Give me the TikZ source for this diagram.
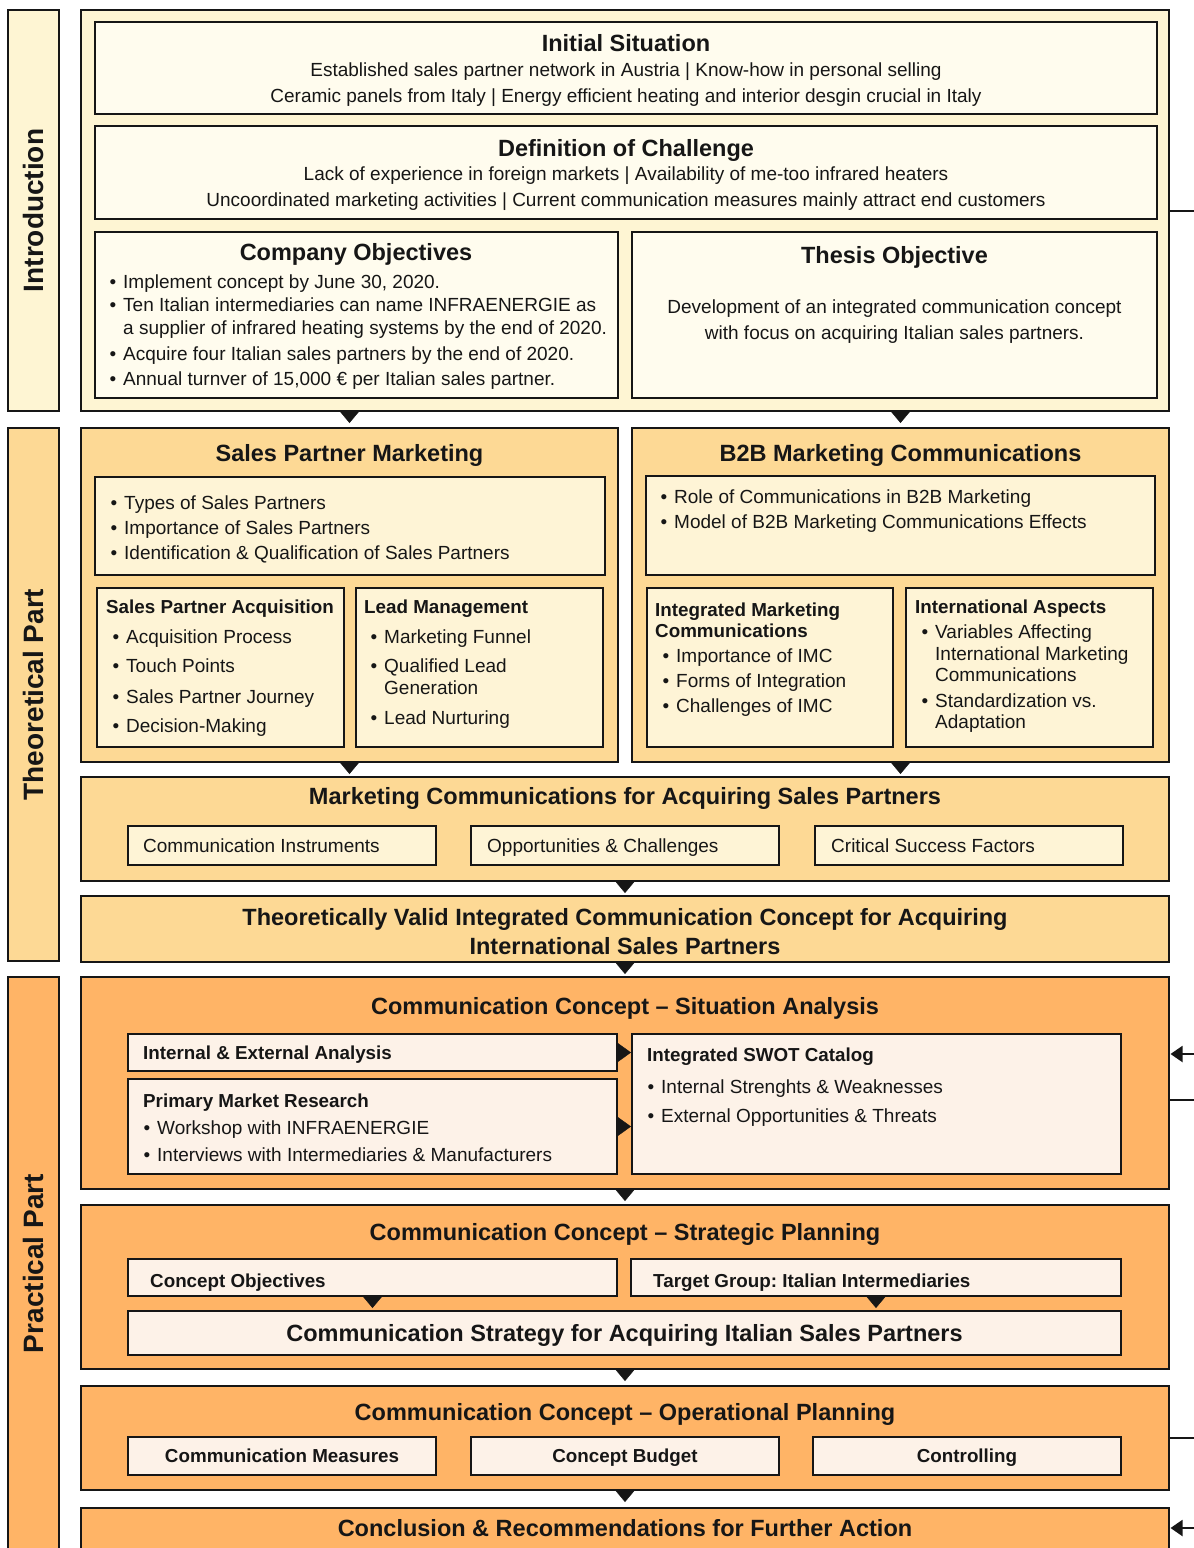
\documentclass[tikz,border=0pt]{standalone}
\usepackage{fontspec}
\setmainfont{Liberation Sans}
\usetikzlibrary{arrows.meta}

\definecolor{introFill}{HTML}{FEF5D3}
\definecolor{introIn}{HTML}{FFFCEE}
\definecolor{theoFill}{HTML}{FDD995}
\definecolor{theoIn}{HTML}{FEF4D6}
\definecolor{pracFill}{HTML}{FFB466}
\definecolor{pracIn}{HTML}{FDF2E8}
\definecolor{edge}{HTML}{161616}

% box from its top-left to its bottom-right corner
\newcommand\bx[6]{%
  \node[#6, anchor=north west, minimum width={#4-#2}, minimum height={#5-#3}] (#1) at (#2,#3) {};}
% bullet hung to the left of the text start
\newcommand\itembul{\llap{•\hspace{7pt}}}

\tikzset{
  frame/.style={draw=edge, line width=2.3pt, inner sep=0pt, outer sep=0pt},
  introbox/.style={frame, fill=introFill},
  introinner/.style={frame, fill=introIn},
  theobox/.style={frame, fill=theoFill},
  theoinner/.style={frame, fill=theoIn},
  pracbox/.style={frame, fill=pracFill},
  pracinner/.style={frame, fill=pracIn},
  txt/.style={inner sep=0pt, font=\fontsize{19}{22}\selectfont\frenchspacing, text=edge},
  ttl/.style={inner sep=0pt, font=\fontsize{23.5}{28}\selectfont\bfseries\frenchspacing, text=edge},
  sub/.style={inner sep=0pt, font=\fontsize{18.8}{22}\selectfont\bfseries\frenchspacing, text=edge},
  lab/.style={inner sep=0pt, font=\fontsize{28}{32}\selectfont\bfseries, text=edge, rotate=90},
  tri/.style={-{Triangle[width=20pt,length=12pt]}, line width=0.4pt, draw=edge, fill=edge},
  trir/.style={-{Triangle[width=20pt,length=14pt]}, line width=0.4pt, draw=edge, fill=edge},
  fb/.style={line width=2pt, draw=edge},
  fbtip/.style={fb, -{Triangle[width=16pt,length=12pt]}},
}

\begin{document}
\begin{tikzpicture}[x=1pt, y=-1pt]
\useasboundingbox (0,0) rectangle (1194,1548);
\clip (0,0) rectangle (1194,1548);

% ---------- part labels ----------
\bx{labI}{8}{10}{59}{411}{introbox}
\bx{labT}{8}{428}{59}{961}{theobox}
\bx{labP}{8}{977}{59}{1565}{pracbox}
\node[lab] (labIt) at (33.5,210.5) {Introduction};
\node[lab] (labTt) at (33.5,694.5) {Theoretical Part};
\node[lab] (labPt) at (33.5,1263.5) {Practical Part};

% ---------- introduction ----------
\bx{intro}{81}{10}{1169}{411}{introbox}
\bx{init}{95}{22}{1157}{114}{introinner}
\bx{chal}{95}{126}{1157}{219}{introinner}
\bx{cobj}{95}{232}{618}{398}{introinner}
\bx{tobj}{632}{232}{1157}{398}{introinner}

\node[ttl, anchor=base] (initT) at (626,51) {Initial Situation};
\node[txt, anchor=base] (initA) at (626,76) {Established sales partner network in Austria | Know-how in personal selling};
\node[txt, anchor=base] (initB) at (626,102) {Ceramic panels from Italy | Energy efficient heating and interior desgin crucial in Italy};

\node[ttl, anchor=base] (chalT) at (626,156) {Definition of Challenge};
\node[txt, anchor=base] (chalA) at (626,180) {Lack of experience in foreign markets | Availability of me-too infrared heaters};
\node[txt, anchor=base] (chalB) at (626,206) {Uncoordinated marketing activities | Current communication measures mainly attract end customers};

\node[ttl, anchor=base] (cobjT) at (356,260) {Company Objectives};
\node[txt, anchor=base west] (cobj1) at (123,288) {\itembul Implement concept by June 30, 2020.};
\node[txt, anchor=base west] (cobj2) at (123,311) {\itembul Ten Italian intermediaries can name INFRAENERGIE as};
\node[txt, anchor=base west] (cobj2b) at (123,334) {a supplier of infrared heating systems by the end of 2020.};
\node[txt, anchor=base west] (cobj3) at (123,360) {\itembul Acquire four Italian sales partners by the end of 2020.};
\node[txt, anchor=base west] (cobj4) at (123,385) {\itembul Annual turnver of 15,000 € per Italian sales partner.};

\node[ttl, anchor=base] (tobjT) at (894.5,263) {Thesis Objective};
\node[txt, anchor=base] (tobjA) at (894.5,313) {Development of an integrated communication concept};
\node[txt, anchor=base] (tobjB) at (894.5,339) {with focus on acquiring Italian sales partners.};

% ---------- theoretical part ----------
\bx{spm}{81}{428}{618}{762}{theobox}
\bx{b2b}{632}{428}{1169}{762}{theobox}
\bx{spmL}{95}{477}{605}{575}{theoinner}
\bx{spa}{97}{588}{344}{747}{theoinner}
\bx{lm}{356}{588}{603}{747}{theoinner}
\bx{b2bL}{646}{476}{1155}{575}{theoinner}
\bx{imc}{647}{588}{893}{747}{theoinner}
\bx{ia}{906}{588}{1153}{747}{theoinner}

\node[ttl, anchor=base] (spmT) at (349.5,461) {Sales Partner Marketing};
\node[ttl, anchor=base] (b2bT) at (900.5,461) {B2B Marketing Communications};

\node[txt, anchor=base west] (spmL1) at (124,509) {\itembul Types of Sales Partners};
\node[txt, anchor=base west] (spmL2) at (124,534) {\itembul Importance of Sales Partners};
\node[txt, anchor=base west] (spmL3) at (124,559) {\itembul Identification \& Qualification of Sales Partners};

\node[txt, anchor=base west] (b2bL1) at (674,503) {\itembul Role of Communications in B2B Marketing};
\node[txt, anchor=base west] (b2bL2) at (674,528) {\itembul Model of B2B Marketing Communications Effects};

\node[sub, anchor=base west] (spaT) at (106,613) {Sales Partner Acquisition};
\node[txt, anchor=base west] (spa1) at (126,643) {\itembul Acquisition Process};
\node[txt, anchor=base west] (spa2) at (126,672) {\itembul Touch Points};
\node[txt, anchor=base west] (spa3) at (126,703) {\itembul Sales Partner Journey};
\node[txt, anchor=base west] (spa4) at (126,732) {\itembul Decision-Making};

\node[sub, anchor=base west] (lmT) at (364,613) {Lead Management};
\node[txt, anchor=base west] (lm1) at (384,643) {\itembul Marketing Funnel};
\node[txt, anchor=base west] (lm2) at (384,672) {\itembul Qualified Lead};
\node[txt, anchor=base west] (lm2b) at (384,694) {Generation};
\node[txt, anchor=base west] (lm3) at (384,724) {\itembul Lead Nurturing};

\node[sub, anchor=base west] (imcT) at (655,616) {Integrated Marketing};
\node[sub, anchor=base west] (imcTb) at (655,637) {Communications};
\node[txt, anchor=base west] (imc1) at (676,662) {\itembul Importance of IMC};
\node[txt, anchor=base west] (imc2) at (676,687) {\itembul Forms of Integration};
\node[txt, anchor=base west] (imc3) at (676,712) {\itembul Challenges of IMC};

\node[sub, anchor=base west] (iaT) at (915,613) {International Aspects};
\node[txt, anchor=base west] (ia1) at (935,638) {\itembul Variables Affecting};
\node[txt, anchor=base west] (ia1b) at (935,660) {International Marketing};
\node[txt, anchor=base west] (ia1c) at (935,681) {Communications};
\node[txt, anchor=base west] (ia2) at (935,707) {\itembul Standardization vs.};
\node[txt, anchor=base west] (ia2b) at (935,728) {Adaptation};

\bx{mc}{81}{777}{1169}{881}{theobox}
\node[ttl, anchor=base] (mcT) at (625,804) {Marketing Communications for Acquiring Sales Partners};
\bx{mcA}{128}{826}{436}{865}{theoinner}
\bx{mcB}{471}{826}{779}{865}{theoinner}
\bx{mcC}{815}{826}{1123}{865}{theoinner}
\node[txt, anchor=base west] (mcAt) at (143,852) {Communication Instruments};
\node[txt, anchor=base west] (mcBt) at (487,852) {Opportunities \& Challenges};
\node[txt, anchor=base west] (mcCt) at (831,852) {Critical Success Factors};

\bx{tv}{81}{896}{1169}{962}{theobox}
\node[ttl, anchor=base] (tvA) at (625,925) {Theoretically Valid Integrated Communication Concept for Acquiring};
\node[ttl, anchor=base] (tvB) at (625,954) {International Sales Partners};

% ---------- practical part ----------
\bx{sa}{81}{977}{1169}{1189}{pracbox}
\node[ttl, anchor=base] (saT) at (625,1014) {Communication Concept – Situation Analysis};
\bx{ie}{128}{1034}{617}{1071}{pracinner}
\bx{pmr}{128}{1079}{617}{1174}{pracinner}
\bx{swot}{632}{1034}{1121}{1174}{pracinner}
\node[sub, anchor=base west] (ieT) at (143,1059) {Internal \& External Analysis};
\node[sub, anchor=base west] (pmrT) at (143,1107) {Primary Market Research};
\node[txt, anchor=base west] (pmr1) at (157,1134) {\itembul Workshop with INFRAENERGIE};
\node[txt, anchor=base west] (pmr2) at (157,1161) {\itembul Interviews with Intermediaries \& Manufacturers};
\node[sub, anchor=base west] (swotT) at (647,1061) {Integrated SWOT Catalog};
\node[txt, anchor=base west] (swot1) at (661,1093) {\itembul Internal Strenghts \& Weaknesses};
\node[txt, anchor=base west] (swot2) at (661,1122) {\itembul External Opportunities \& Threats};

\bx{sp}{81}{1205}{1169}{1369}{pracbox}
\node[ttl, anchor=base] (spT) at (625,1240) {Communication Concept – Strategic Planning};
\bx{cob}{128}{1259}{617}{1296}{pracinner}
\bx{tg}{631}{1259}{1121}{1296}{pracinner}
\bx{cs}{128}{1311}{1121}{1355}{pracinner}
\node[sub, anchor=base west] (cobT) at (150,1287) {Concept Objectives};
\node[sub, anchor=base west] (tgT) at (653,1287) {Target Group: Italian Intermediaries};
\node[ttl, anchor=base] (csT) at (624.5,1341) {Communication Strategy for Acquiring Italian Sales Partners};

\bx{op}{81}{1386}{1169}{1490}{pracbox}
\node[ttl, anchor=base] (opT) at (625,1420) {Communication Concept – Operational Planning};
\bx{cm}{128}{1437}{436}{1475}{pracinner}
\bx{cb}{471}{1437}{779}{1475}{pracinner}
\bx{ct}{813}{1437}{1121}{1475}{pracinner}
\node[sub, anchor=base] (cmT) at (282,1462) {Communication Measures};
\node[sub, anchor=base] (cbT) at (625,1462) {Concept Budget};
\node[sub, anchor=base] (ctT) at (967,1462) {Controlling};

\bx{cr}{81}{1508}{1169}{1565}{pracbox}
\node[ttl, anchor=base] (crT) at (625,1536) {Conclusion \& Recommendations for Further Action};

% ---------- flow arrows ----------
\draw[tri, shorten >=5pt] (intro.south -| spm.north) -- (spm.north);
\draw[tri, shorten >=5pt] (intro.south -| b2b.north) -- (b2b.north);
\draw[tri, shorten >=3pt] (spm.south) -- (spm.south |- mc.north);
\draw[tri, shorten >=3pt] (b2b.south) -- (b2b.south |- mc.north);
\draw[tri, shorten >=3pt] (mc.south) -- (tv.north);
\draw[tri, shorten >=3pt] (tv.south) -- (sa.north);
\draw[trir, shorten >=1pt] (ie.east) -- (ie.east -| swot.west);
\draw[trir, shorten >=1pt] (pmr.east) -- (pmr.east -| swot.west);
\draw[tri, shorten >=4pt] (sa.south) -- (sp.north);
\draw[tri, shorten >=3pt] (cob.south) -- (cob.south |- cs.north);
\draw[tri, shorten >=3pt] (tg.south) -- (tg.south |- cs.north);
\draw[tri, shorten >=5pt] (sp.south) -- (op.north);
\draw[tri, shorten >=6pt] (op.south) -- (cr.north);

% ---------- links leaving to the right ----------
\coordinate (fbA) at (1200,210.5);
\coordinate (fbB) at (1200,1054);
\coordinate (fbC) at (1200,1100);
\coordinate (fbD) at (1200,1438);
\coordinate (fbE) at (1200,1528);
\draw[fb] (intro.east) -- (fbA);
\draw[fbtip, shorten >=1.5pt] (fbB) -- (fbB -| sa.east);
\draw[fb] (fbC -| sa.east) -- (fbC);
\draw[fb] (op.east) -- (fbD);
\draw[fbtip, shorten >=1.5pt] (fbE) -- (fbE -| cr.east);
\end{tikzpicture}
\end{document}
